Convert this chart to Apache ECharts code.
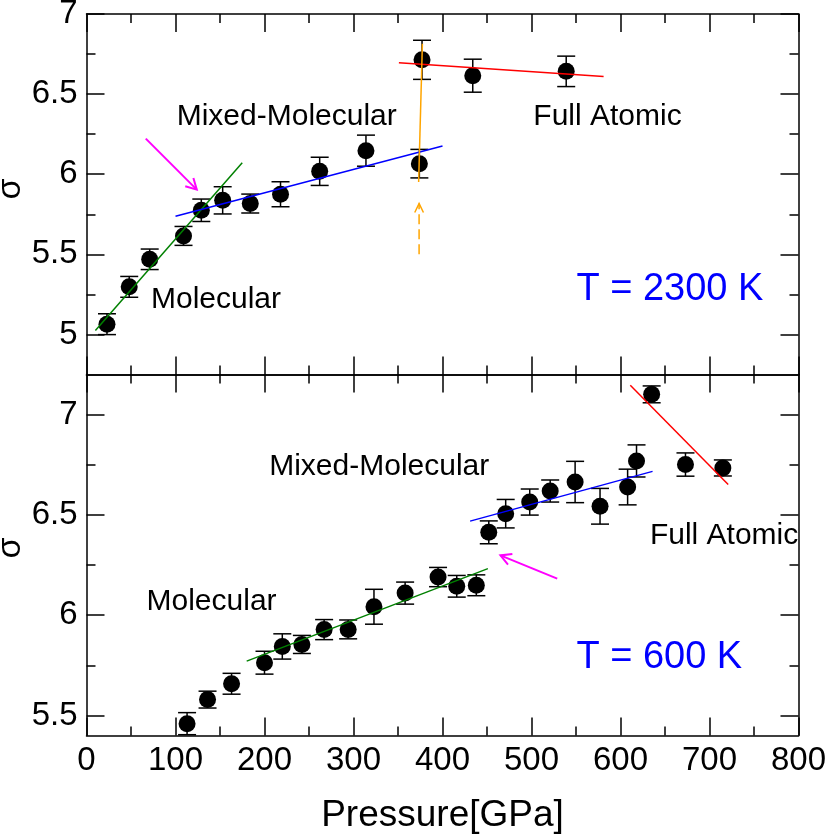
<!DOCTYPE html>
<html>
<head>
<meta charset="utf-8">
<script src="https://cdn.jsdelivr.net/npm/echarts@6/dist/echarts.min.js"></script>
<style>
  html, body { margin: 0; padding: 0; background: #fff; }
  #chart { width: 830px; height: 837px; }
</style>
</head>
<body>
<div id="chart"></div>
<script>
// T = 2300 K  (top panel)
var pressHot = [23, 48, 71, 109, 129, 153, 184, 218, 262, 314, 374, 377, 434, 539];
var sigmaHot = [5.064, 5.297, 5.469, 5.615, 5.775, 5.837, 5.817, 5.875, 6.018, 6.147, 6.066, 6.714, 6.615, 6.642];
var errHot = [0.065, 0.065, 0.064, 0.059, 0.07, 0.085, 0.059, 0.078, 0.088, 0.097, 0.089, 0.122, 0.103, 0.095];

// T = 600 K  (bottom panel)
var pressCold = [113, 136, 163, 200, 220, 242, 267, 294, 323, 358, 395, 416, 438, 452, 471, 498, 521, 549, 577, 608, 618, 635, 673, 715];
var sigmaCold = [5.459, 5.579, 5.658, 5.763, 5.844, 5.854, 5.928, 5.929, 6.042, 6.110, 6.190, 6.144, 6.149, 6.413, 6.506, 6.564, 6.619, 6.664, 6.543, 6.639, 6.769, 7.101, 6.751, 6.734];
var errCold = [0.055, 0.042, 0.052, 0.057, 0.063, 0.045, 0.05, 0.047, 0.087, 0.055, 0.048, 0.054, 0.052, 0.057, 0.071, 0.065, 0.055, 0.103, 0.089, 0.089, 0.08, 0.042, 0.058, 0.04];

// fitted lines, end points [pressure, sigma]
var hotMolecularFit = [[10, 5.025], [175, 6.072]];
var hotMixedFit = [[100, 5.738], [400, 6.176]];
var hotAtomicFit = [[351, 6.696], [581, 6.610]];
var hotJump = [[377.4, 6.814], [373.2, 5.951]];
var coldMolecularFit = [[180, 5.771], [451, 6.232]];
var coldMixedFit = [[431, 6.469], [636, 6.717]];
var coldAtomicFit = [[611, 7.146], [721, 6.652]];

// arrows [x0, y0, x1(tip), y1(tip)]
var hotMagentaArrow = [66.6, 6.222, 123.9, 5.904];
var hotOrangeArrow = [373.7, 5.50, 373.7, 5.817];
var coldMagentaArrow = [528.9, 6.182, 465.1, 6.298];

// axis ticks
var xRange = [0, 800];
var hotRange = [4.75, 7];
var coldRange = [5.4, 7.2];
var hotMajor = [5, 5.5, 6, 6.5, 7];
var hotMinor = [5.25, 5.75, 6.25, 6.75];
var coldMajor = [5.5, 6, 6.5, 7];
var coldMinor = [5.75, 6.25, 6.75];

// text labels [pressure, sigma, text]
var hotNotes = [[225, 6.361, 'Mixed-Molecular'], [145.5, 5.214, 'Molecular'], [585.4, 6.361, 'Full Atomic']];
var hotTemp = [[655.5, 5.282, 'T = 2300 K']];
var coldNotes = [[328.9, 6.739, 'Mixed-Molecular'], [140.5, 6.065, 'Molecular'], [716.4, 6.395, 'Full Atomic']];
var coldTemp = [[643.6, 5.790, 'T = 600 K']];

var FONT = 'Liberation Sans, Arial, Helvetica, sans-serif';
var chart = echarts.init(document.getElementById('chart'), null, { renderer: 'canvas' });

function xAx(grid, pos, labels) {
  return {
    type: 'value', gridIndex: grid, position: pos, min: xRange[0], max: xRange[1], interval: 100,
    axisLine: { show: true, onZero: false, lineStyle: { color: '#000', width: 1.5 } },
    axisTick: { show: true, inside: true, length: 18, lineStyle: { color: '#000', width: 1.5 } },
    minorTick: { show: true, splitNumber: 2, length: 9, lineStyle: { color: '#000', width: 1.5 } },
    axisLabel: { show: labels, margin: 9, fontSize: 33, color: '#000', fontFamily: FONT },
    splitLine: { show: false },
    name: labels ? 'Pressure[GPa]' : '',
    nameLocation: 'middle', nameGap: 62,
    nameTextStyle: { fontSize: 37, color: '#000', fontFamily: FONT }
  };
}

function yAx(grid, pos, range, ticks, len, labels, line) {
  return {
    type: 'value', gridIndex: grid, position: pos, min: range[0], max: range[1],
    axisLine: { show: line, onZero: false, lineStyle: { color: '#000', width: 1.5 } },
    axisTick: { show: true, inside: true, length: len, customValues: ticks, lineStyle: { color: '#000', width: 1.5 } },
    axisLabel: { show: labels, customValues: ticks, margin: 9, fontSize: 33, color: '#000', fontFamily: FONT },
    splitLine: { show: false }
  };
}

function pts(p, s) {
  return p.map(function (v, i) { return [v, s[i]]; });
}
function bars(p, s, e) {
  return p.map(function (v, i) { return [v, s[i], e[i]]; });
}

function errSeries(grid, yi, data) {
  return {
    type: 'custom', xAxisIndex: grid * 2, yAxisIndex: yi, data: data, z: 3,
    encode: { x: 0, y: 1 },
    renderItem: function (params, api) {
      var x = api.value(0), y = api.value(1), e = api.value(2);
      var a = api.coord([x, y + e]);
      var b = api.coord([x, y - e]);
      var st = { stroke: '#000', lineWidth: 1.5 };
      return {
        type: 'group',
        children: [
          { type: 'line', shape: { x1: a[0], y1: a[1], x2: b[0], y2: b[1] }, style: st },
          { type: 'line', shape: { x1: a[0] - 9, y1: a[1], x2: a[0] + 9, y2: a[1] }, style: st },
          { type: 'line', shape: { x1: b[0] - 9, y1: b[1], x2: b[0] + 9, y2: b[1] }, style: st }
        ]
      };
    }
  };
}

function dotSeries(grid, yi, data) {
  return {
    type: 'scatter', xAxisIndex: grid * 2, yAxisIndex: yi, data: data, z: 4,
    symbol: 'circle', symbolSize: 17, itemStyle: { color: '#000', opacity: 1 }
  };
}

function fitSeries(grid, yi, data, color) {
  return {
    type: 'line', xAxisIndex: grid * 2, yAxisIndex: yi, data: data, z: 5,
    symbol: 'none', lineStyle: { color: color, width: 1.5 }
  };
}

function arrowSeries(grid, yi, arr, color, width, dashed, head, spread) {
  return {
    type: 'custom', xAxisIndex: grid * 2, yAxisIndex: yi, data: [arr], z: 5,
    encode: { x: [0, 2], y: [1, 3] },
    renderItem: function (params, api) {
      var p0 = api.coord([api.value(0), api.value(1)]);
      var p1 = api.coord([api.value(2), api.value(3)]);
      var ang = Math.atan2(p1[1] - p0[1], p1[0] - p0[0]);
      var h1 = [p1[0] - head * Math.cos(ang - spread), p1[1] - head * Math.sin(ang - spread)];
      var h2 = [p1[0] - head * Math.cos(ang + spread), p1[1] - head * Math.sin(ang + spread)];
      return {
        type: 'group',
        children: [
          { type: 'line', shape: { x1: p0[0], y1: p0[1], x2: p1[0], y2: p1[1] },
            style: { stroke: color, lineWidth: width, lineDash: dashed ? [10, 5] : null } },
          { type: 'polyline', shape: { points: [h1, p1, h2] },
            style: { stroke: color, lineWidth: width, fill: null } }
        ]
      };
    }
  };
}

function noteSeries(grid, yi, notes, color, size) {
  return {
    type: 'scatter', xAxisIndex: grid * 2, yAxisIndex: yi, z: 6, symbolSize: 0,
    data: notes.map(function (n) { return { value: [n[0], n[1]], name: n[2] }; }),
    itemStyle: { opacity: 1 },
    label: {
      show: true, position: 'inside', formatter: '{b}', opacity: 1,
      color: color, fontSize: size, fontFamily: FONT
    },
    silent: true
  };
}

function sigmaLabel(y) {
  return {
    type: 'text', x: 11, y: y, rotation: Math.PI / 2,
    style: { text: 'σ', font: '34px ' + FONT, fill: '#000', align: 'center', verticalAlign: 'middle' }
  };
}

var option = {
  animation: false,
  backgroundColor: '#fff',
  grid: [
    { left: 86.5, top: 14, width: 712, height: 360.5, outerBoundsMode: 'none', containLabel: false },
    { left: 86.5, top: 374.5, width: 712, height: 361, outerBoundsMode: 'none', containLabel: false }
  ],
  graphic: [sigmaLabel(189), sigmaLabel(548)],
  xAxis: [
    xAx(0, 'bottom', false), xAx(0, 'top', false),
    xAx(1, 'bottom', true), xAx(1, 'top', false)
  ],
  yAxis: [
    yAx(0, 'left', hotRange, hotMajor, 18, true, true),
    yAx(0, 'left', hotRange, hotMinor, 9, false, false),
    yAx(0, 'right', hotRange, hotMajor, 18, false, true),
    yAx(0, 'right', hotRange, hotMinor, 9, false, false),
    yAx(1, 'left', coldRange, coldMajor, 18, true, true),
    yAx(1, 'left', coldRange, coldMinor, 9, false, false),
    yAx(1, 'right', coldRange, coldMajor, 18, false, true),
    yAx(1, 'right', coldRange, coldMinor, 9, false, false)
  ],
  series: [
    errSeries(0, 0, bars(pressHot, sigmaHot, errHot)),
    dotSeries(0, 0, pts(pressHot, sigmaHot)),
    fitSeries(0, 0, hotMolecularFit, '#008000'),
    fitSeries(0, 0, hotMixedFit, '#0000ff'),
    fitSeries(0, 0, hotAtomicFit, '#ff0000'),
    fitSeries(0, 0, hotJump, '#ffa500'),
    arrowSeries(0, 0, hotMagentaArrow, '#ff00ff', 2, false, 12, 0.5),
    arrowSeries(0, 0, hotOrangeArrow, '#ffa500', 1.5, true, 10, 0.45),
    noteSeries(0, 0, hotNotes, '#000', 30),
    noteSeries(0, 0, hotTemp, '#0000ff', 38),

    errSeries(1, 4, bars(pressCold, sigmaCold, errCold)),
    dotSeries(1, 4, pts(pressCold, sigmaCold)),
    fitSeries(1, 4, coldMolecularFit, '#008000'),
    fitSeries(1, 4, coldMixedFit, '#0000ff'),
    fitSeries(1, 4, coldAtomicFit, '#ff0000'),
    arrowSeries(1, 4, coldMagentaArrow, '#ff00ff', 2, false, 12, 0.5),
    noteSeries(1, 4, coldNotes, '#000', 30),
    noteSeries(1, 4, coldTemp, '#0000ff', 38)
  ]
};

chart.setOption(option);
</script>
</body>
</html>
